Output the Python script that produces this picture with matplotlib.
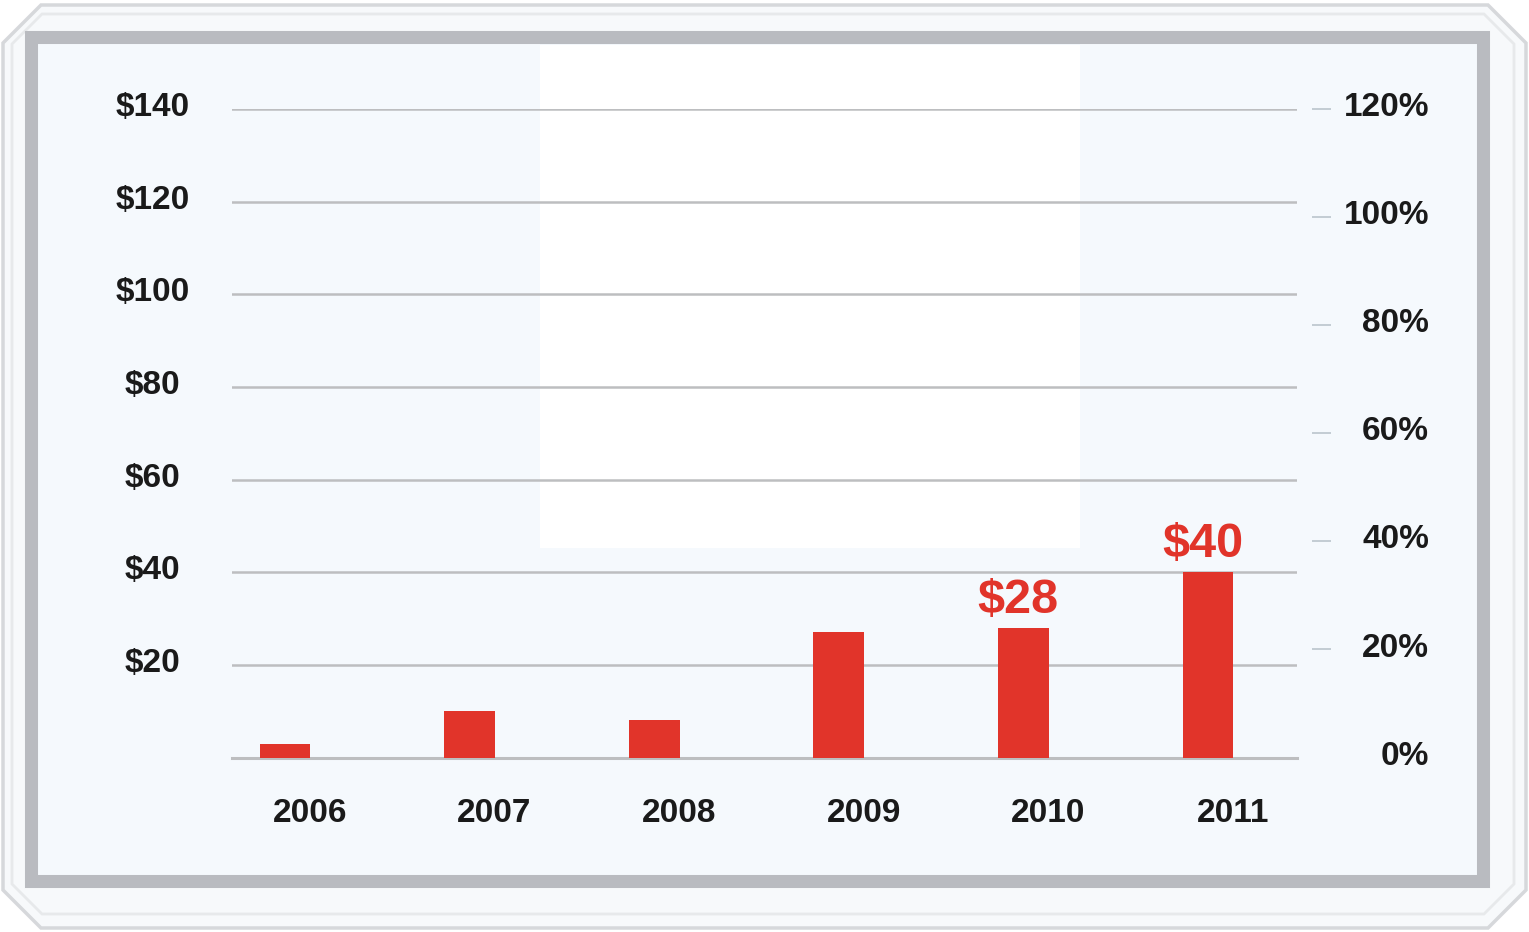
import matplotlib
matplotlib.use("Agg")
import matplotlib.pyplot as plt
from matplotlib.patches import Rectangle, Polygon
import numpy as np

# ---- data ----
years = ["2006", "2007", "2008", "2009", "2010", "2011"]
revenue = [3, 10, 8, 27, 28, 40]          # $ millions
value_labels = {"2010": "$28", "2011": "$40"}
left_ticks = [20, 40, 60, 80, 100, 120, 140]
left_labels = ["$20", "$40", "$60", "$80", "$100", "$120", "$140"]
right_ticks = [0, 20, 40, 60, 80, 100, 120]
right_labels = ["0%", "20%", "40%", "60%", "80%", "100%", "120%"]

RED = "#e1342a"
GRID = "#bdbec0"
INK = "#1a1a1a"
FONT = ["Liberation Sans", "DejaVu Sans"]

W, H = 1529, 932
fig = plt.figure(figsize=(W / 100, H / 100), dpi=100)
fig.patch.set_facecolor("white")

# ---- decorative frame drawn in pixel space ----
bg = fig.add_axes([0, 0, 1, 1], zorder=0)
bg.set_xlim(0, W)
bg.set_ylim(H, 0)
bg.axis("off")


def octagon(x0, y0, x1, y1, c):
    return [(x0 + c, y0), (x1 - c, y0), (x1, y0 + c), (x1, y1 - c),
            (x1 - c, y1), (x0 + c, y1), (x0, y1 - c), (x0, y0 + c)]


bg.add_patch(Polygon(octagon(3, 5, 1526, 928, 38), closed=True,
                     fc="#f7f9fb", ec="#d6d8db", lw=2.5))
bg.add_patch(Polygon(octagon(12, 14, 1514, 914, 30), closed=True,
                     fc="none", ec="#e7e9eb", lw=2))
bg.add_patch(Rectangle((31, 36.5), 1451.5, 844, fc="#f5f9fd",
                       ec="#b9bbc0", lw=9.4))
bg.add_patch(Rectangle((540, 45), 540, 503, fc="white", ec="none"))

# ---- main chart ----
x0_px, x1_px = 232, 1297
base_px, top_px = 757.5, 109
ax = fig.add_axes([x0_px / W, (H - base_px) / H,
                   (x1_px - x0_px) / W, (base_px - top_px) / H], zorder=1)
ax.patch.set_visible(False)

x = np.arange(len(years))
ax.set_xlim(-0.287, 5.482)
ax.set_ylim(0, 140)

ax.set_yticks(left_ticks)
ax.set_yticklabels([])
ax.grid(axis="y", color=GRID, lw=1.8, zorder=1)
ax.axhline(0, color=GRID, lw=2.2, clip_on=False, zorder=1)
for s in ax.spines.values():
    s.set_visible(False)

ax.bar(x, revenue, width=0.276, color=RED, zorder=3)

for i, yr in enumerate(years):
    if yr in value_labels:
        ax.annotate(value_labels[yr], (x[i], revenue[i]),
                    xytext=(-4, 11), textcoords="offset points",
                    ha="center", va="baseline", color=RED,
                    fontsize=35, fontweight="bold", family=FONT)

# dollar labels, centred in the left margin, sitting just above each gridline
for v, lab in zip(left_ticks, left_labels):
    ax.annotate(lab, (0, v), xycoords=("axes fraction", "data"),
                xytext=(-57, 1), textcoords="offset points",
                ha="center", va="center", color=INK,
                fontsize=24, fontweight="bold", family=FONT,
                annotation_clip=False)

ax.set_xticks(x + 0.135, years)
ax.tick_params(axis="x", length=0, pad=29)
ax.tick_params(axis="y", length=0)
for lab in ax.get_xticklabels():
    lab.set_fontsize(24)
    lab.set_fontweight("bold")
    lab.set_family(FONT)
    lab.set_color(INK)

# ---- right percentage axis ----
ax2 = ax.twinx()
ax2.set_ylim(0, 120)
ax2.set_yticks(right_ticks)
ax2.set_yticklabels([])
for s in ax2.spines.values():
    s.set_visible(False)
ax2.spines["right"].set_position(("outward", 11))
ax2.tick_params(axis="y", length=14, width=1.4, color="#c3ccd3")
ax2.yaxis.get_major_ticks()[0].tick2line.set_visible(False)

for v, lab in zip(right_ticks, right_labels):
    ax2.annotate(lab, (1, v), xycoords=("axes fraction", "data"),
                 xytext=(95, 1), textcoords="offset points",
                 ha="right", va="center", color=INK,
                 fontsize=24, fontweight="bold", family=FONT,
                 annotation_clip=False)

fig.savefig("out.png", dpi=100, facecolor=fig.get_facecolor())
